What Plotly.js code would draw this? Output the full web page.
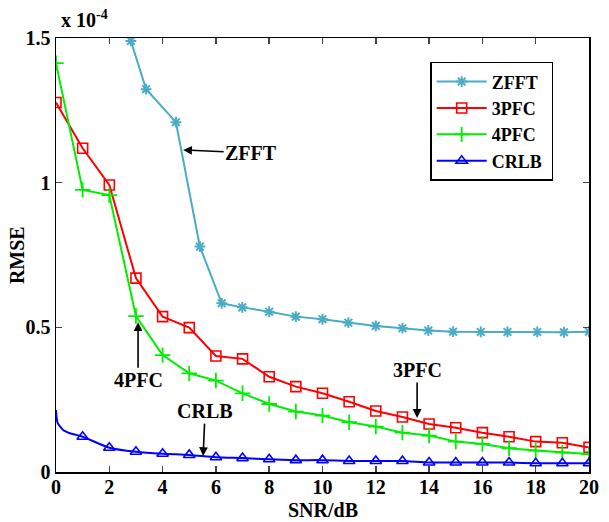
<!DOCTYPE html>
<html>
<head>
<meta charset="utf-8">
<script src="https://cdn.plot.ly/plotly-3.0.1.min.js"></script>
<style>html,body{margin:0;padding:0;background:#fff;}#chart{width:609px;height:522px;}</style>
</head>
<body>
<div id="chart"></div>
<script>
// Values in units of 1e-4
var zfftX = [2.81, 3.38, 4.50, 5.40, 6.22, 6.99, 8.0, 9.0, 10.0, 10.97, 12.0, 13.0, 13.97, 14.9, 15.94, 16.94, 18.06, 19.06, 20.0];
var zfftY = [1.490, 1.323, 1.209, 0.779, 0.583, 0.569, 0.554, 0.537, 0.528, 0.516, 0.505, 0.497, 0.489, 0.485, 0.484, 0.484, 0.484, 0.483, 0.485];

var pfc3X = [0, 1, 2, 3, 4, 5, 6, 7, 8, 9, 10, 11, 12, 13, 14, 15, 16, 17, 18, 19, 20];
var pfc3Y = [1.277, 1.119, 0.992, 0.670, 0.537, 0.499, 0.401, 0.391, 0.329, 0.295, 0.272, 0.243, 0.211, 0.190, 0.166, 0.153, 0.136, 0.122, 0.105, 0.101, 0.085];

var pfc4X = [0, 1, 2, 3, 4, 5, 6, 7, 8, 9, 10, 11, 12, 13, 14, 15, 16, 17, 18, 19, 20];
var pfc4Y = [1.413, 0.975, 0.957, 0.539, 0.404, 0.341, 0.316, 0.272, 0.235, 0.209, 0.195, 0.172, 0.157, 0.136, 0.126, 0.105, 0.097, 0.082, 0.074, 0.067, 0.062];

var crlbLineX = [0, 0.06, 0.27, 0.52, 1, 2, 3, 4, 5, 6, 7, 8, 9, 10, 11, 12, 13, 14, 15, 16, 17, 18, 19, 20];
var crlbLineY = [0.214, 0.170, 0.145, 0.134, 0.122, 0.084, 0.070, 0.063, 0.059, 0.051, 0.048, 0.044, 0.041, 0.041, 0.038, 0.038, 0.038, 0.033, 0.033, 0.033, 0.033, 0.030, 0.030, 0.030];
var crlbX = [1, 2, 3, 4, 5, 6, 7, 8, 9, 10, 11, 12, 13, 14, 15, 16, 17, 18, 19, 20];
var crlbY = [0.122, 0.084, 0.070, 0.063, 0.059, 0.051, 0.048, 0.044, 0.041, 0.041, 0.038, 0.038, 0.038, 0.033, 0.033, 0.033, 0.033, 0.030, 0.030, 0.030];

var seriesNames = ['ZFFT', '3PFC', '4PFC', 'CRLB'];
var xTicks = [0, 2, 4, 6, 8, 10, 12, 14, 16, 18, 20];
var xTickText = ['0', '2', '4', '6', '8', '10', '12', '14', '16', '18', '20'];
var yTicks = [0, 0.5, 1, 1.5];
var yTickText = ['0', '0.5', '1', '1.5'];

function b(s) { return '<b>' + s + '</b>'; }
function lg(s) { return '<b>' + s + '</b>&nbsp;'; }

var colZ = '#4bacc6', col3 = '#ff0000', col4 = '#00ee00', colC = '#0000ff';

var traces = [
  {x: zfftX, y: zfftY, name: lg(seriesNames[0]), mode: 'lines+markers', line: {color: colZ, width: 2},
   marker: {symbol: 'asterisk-open', size: 9, color: colZ, line: {color: colZ, width: 2}}},
  {x: pfc3X, y: pfc3Y, name: lg(seriesNames[1]), mode: 'lines+markers', line: {color: col3, width: 2},
   marker: {symbol: 'square-open', size: 10, color: col3, line: {color: col3, width: 1.6}}},
  {x: pfc4X, y: pfc4Y, name: lg(seriesNames[2]), mode: 'lines+markers', line: {color: col4, width: 2},
   marker: {symbol: 'cross-thin-open', size: 11, color: col4, line: {color: col4, width: 1.8}}},
  {x: crlbLineX, y: crlbLineY, name: lg(seriesNames[3]), mode: 'lines', line: {color: colC, width: 2, shape: 'spline', smoothing: 0.6},
   showlegend: false, hoverinfo: 'skip'},
  {x: crlbX, y: crlbY, name: lg(seriesNames[3]), mode: 'markers',
   marker: {symbol: 'triangle-up-open', size: 10, color: colC, line: {color: colC, width: 1.6}}, showlegend: false},
  {x: [null], y: [null], name: lg(seriesNames[3]), mode: 'lines+markers', line: {color: colC, width: 2},
   marker: {symbol: 'triangle-up-open', size: 10, color: colC, line: {color: colC, width: 1.6}}}
];

var fam = 'Liberation Serif, Times New Roman, serif';
var font = {family: fam, size: 20, color: '#000', weight: 700};
var tickFont = {family: fam, size: 20, color: '#000', weight: 700};

var arrowBase = {showarrow: true, arrowhead: 2, arrowsize: 1.1, arrowwidth: 1.6, arrowcolor: '#000', font: font, xref: 'x', yref: 'y', axref: 'pixel', ayref: 'pixel'};

var layout = {
  width: 609, height: 522,
  margin: {l: 56, r: 20, t: 38, b: 50},
  paper_bgcolor: '#fff', plot_bgcolor: '#fff',
  font: font,
  showlegend: true,
  legend: {x: 0.702, y: 0.945, xanchor: 'left', yanchor: 'top', bordercolor: '#000', borderwidth: 1.5, bgcolor: '#fff',
           font: {family: fam, size: 18, color: '#000', weight: 700}, tracegroupgap: 0, itemwidth: 50},
  xaxis: {range: [0, 20], tickvals: xTicks, ticktext: xTickText.map(b), ticks: 'inside', ticklen: 6, tickwidth: 1.5,
          showline: true, linewidth: 1.5, linecolor: '#000', mirror: 'allticks', showgrid: false, zeroline: false,
          tickfont: tickFont, automargin: false, ticklabelstandoff: -4},
  yaxis: {range: [0, 1.5], tickvals: yTicks, ticktext: yTickText.map(b), ticks: 'inside', ticklen: 6, tickwidth: 1.5,
          showline: true, linewidth: 1.5, linecolor: '#000', mirror: 'allticks', showgrid: false, zeroline: false,
          tickfont: tickFont, automargin: false},
  annotations: [
    {xref: 'paper', yref: 'paper', x: 0.5, y: -0.088, xanchor: 'center', yanchor: 'middle', showarrow: false,
     text: b('SNR/dB'), font: font},
    {xref: 'paper', yref: 'paper', x: -0.073, y: 0.5, xanchor: 'center', yanchor: 'middle', showarrow: false,
     text: b('RMSE'), font: font, textangle: -90},
    {xref: 'paper', yref: 'paper', x: 0.006, y: 1.012, xanchor: 'left', yanchor: 'bottom', showarrow: false,
     text: b('x 10<sup>-4</sup>'), font: font},
    Object.assign({}, arrowBase, {x: 4.77, y: 1.113, ax: 68, ay: 3, text: b('ZFFT')}),
    Object.assign({}, arrowBase, {x: 3.08, y: 0.518, ax: 0, ay: 58, text: b('4PFC')}),
    Object.assign({}, arrowBase, {x: 5.52, y: 0.055, ax: 2, ay: -45, text: b('CRLB')}),
    Object.assign({}, arrowBase, {x: 13.55, y: 0.187, ax: 0, ay: -48, text: b('3PFC')})
  ]
};

Plotly.newPlot('chart', traces, layout, {displayModeBar: false, staticPlot: true});
</script>
</body>
</html>
